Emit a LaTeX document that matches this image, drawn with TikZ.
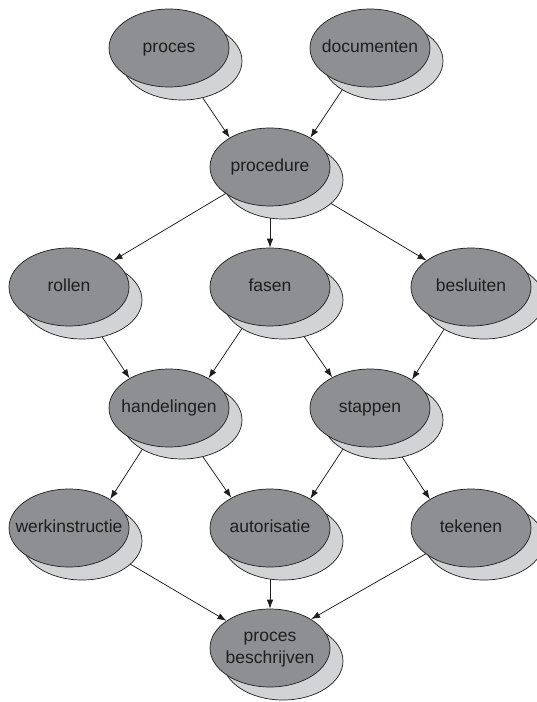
\documentclass[tikz,border=0pt]{standalone}
\usepackage{fontspec}
\setmainfont{Liberation Sans}
\usetikzlibrary{arrows.meta,backgrounds,shapes.geometric}
\definecolor{blobfront}{HTML}{8E8F93}
\definecolor{blobback}{HTML}{D2D3D5}
\definecolor{ink}{HTML}{1E1E1E}
\newcommand\lbl[1]{\makebox[0pt]{\begin{tabular}{@{}c@{}}#1\end{tabular}}}
\tikzset{
  x=1pt, y=-1pt,
  blob/.style={ellipse, draw=ink, line width=0.7pt, fill=blobfront,
    minimum width=120pt, minimum height=78pt, inner sep=0pt,
    text=ink, font=\fontsize{17.5}{22}\selectfont},
  blobshadow/.style={blob, fill=blobback},
  link/.style={draw=ink, line width=0.75pt, -{Latex[length=9pt,width=6.5pt]}}
}
\begin{document}
\begin{tikzpicture}
\useasboundingbox (0,0) rectangle (536,702);

% shadows (offset down-right)
\node[blobshadow] (procesS)      at (182,61)  {};
\node[blobshadow] (documentenS)  at (383,61)  {};
\node[blobshadow] (procedureS)   at (283,180) {};
\node[blobshadow] (rollenS)      at (82,300)  {};
\node[blobshadow] (fasenS)       at (283,300) {};
\node[blobshadow] (besluitenS)   at (484,300) {};
\node[blobshadow] (handelingenS) at (182,420) {};
\node[blobshadow] (stappenS)     at (383,420) {};
\node[blobshadow] (werkS)        at (82,541)  {};
\node[blobshadow] (autorisatieS) at (283,541) {};
\node[blobshadow] (tekenenS)     at (484,541) {};
\node[blobshadow] (beschrijvenS) at (283,661) {};

% main ellipses
\node[blob] (proces)      at (169,48)  {\lbl{proces}};
\node[blob] (documenten)  at (370,48)  {\lbl{documenten}};
\node[blob] (procedure)   at (270,167) {\lbl{procedure}};
\node[blob] (rollen)      at (69,287)  {\lbl{rollen}};
\node[blob] (fasen)       at (270,287) {\lbl{fasen}};
\node[blob] (besluiten)   at (471,287) {\lbl{besluiten}};
\node[blob] (handelingen) at (169,408) {\lbl{handelingen}};
\node[blob] (stappen)     at (370,408) {\lbl{stappen}};
\node[blob] (werk)        at (69,528)  {\lbl{werkinstructie}};
\node[blob] (autorisatie) at (270,528) {\lbl{autorisatie}};
\node[blob] (tekenen)     at (471,528) {\lbl{tekenen}};
\node[blob] (beschrijven) at (270,648) {\lbl{proces\\beschrijven}};

% connectors run behind the ellipses
\begin{scope}[on background layer]
  \draw[link] (proces.center)      -- (procedure.144);
  \draw[link] (documenten.center)  -- (procedure.36);
  \draw[link] (procedure.center)   -- (rollen);
  \draw[link] (procedure.center)   -- (fasen);
  \draw[link] (procedure.center)   -- (besluiten);
  \draw[link] (rollen.center)      -- (handelingen.143);
  \draw[link] (fasen.center)       -- (handelingen.37);
  \draw[link] (fasen.center)       -- (stappen.141);
  \draw[link] (besluiten.center)   -- (stappen.34);
  \draw[link] (handelingen.center) -- (werk.35);
  \draw[link] (handelingen.center) -- (autorisatie.142);
  \draw[link] (stappen.center)     -- (autorisatie.36);
  \draw[link] (stappen.center)     -- (tekenen.145);
  \draw[link] (werk.center)        -- (beschrijven.148);
  \draw[link] (autorisatie.center) -- (beschrijven);
  \draw[link] (tekenen.center)     -- (beschrijven.35);
\end{scope}
\end{tikzpicture}
\end{document}
